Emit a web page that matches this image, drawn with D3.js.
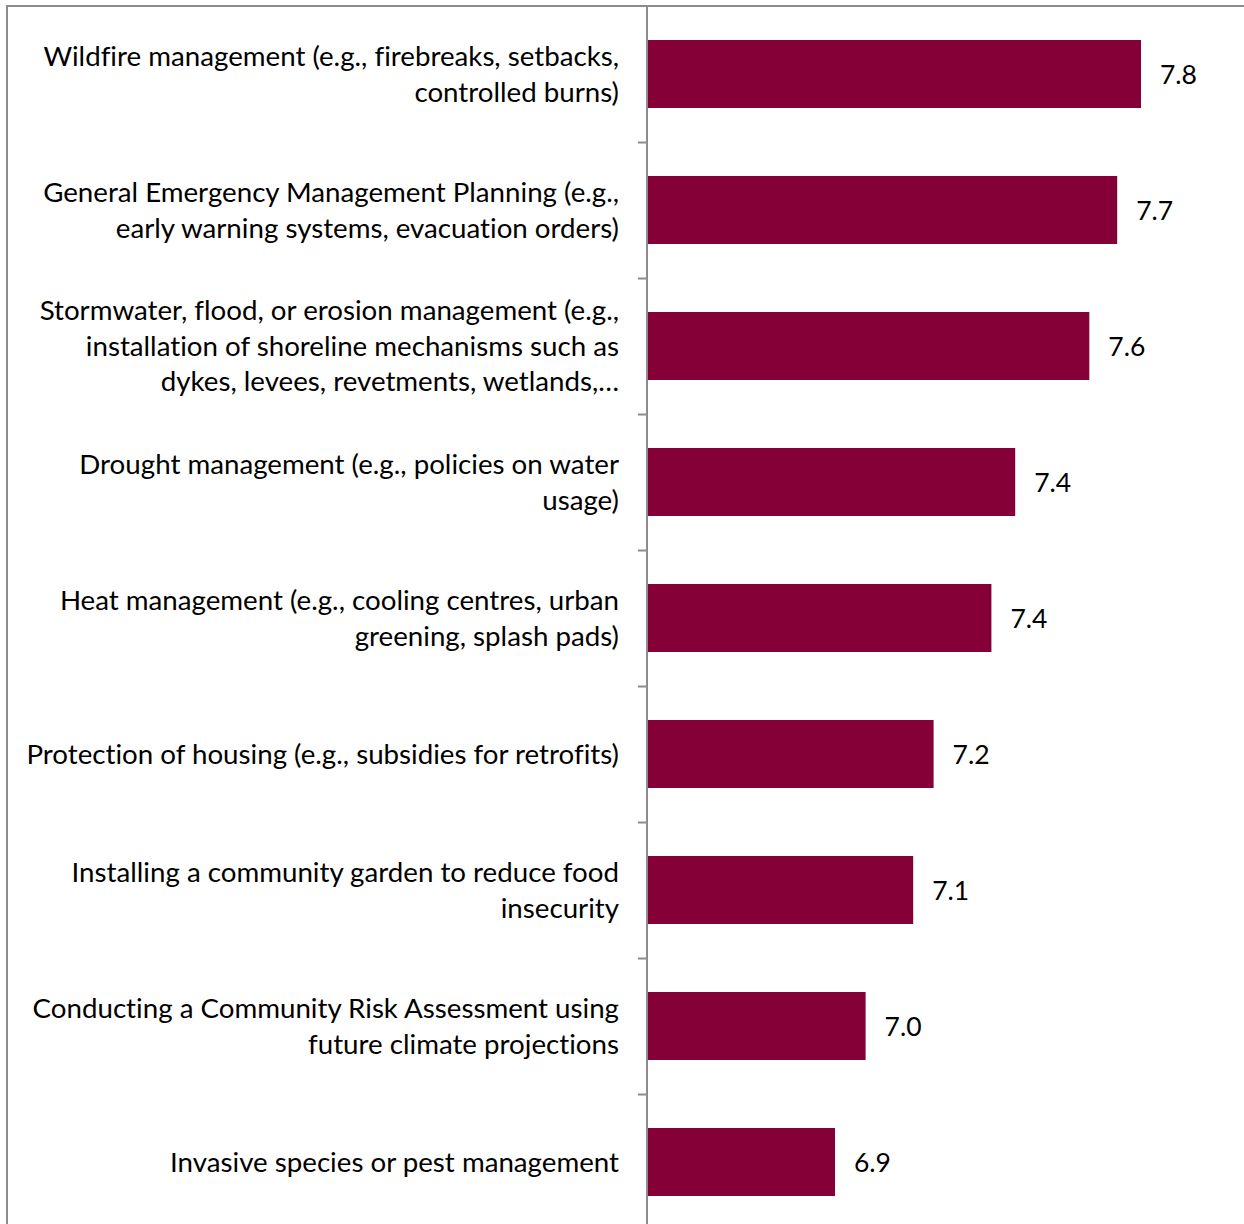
<!DOCTYPE html>
<html>
<head>
<meta charset="utf-8">
<script src="https://cdn.jsdelivr.net/npm/d3@7"></script>
<style>
  html, body { margin: 0; padding: 0; background: #fff; }
  svg { display: block; }
  text { font-family: "Lato", "Open Sans", sans-serif; fill: #000; font-variant-ligatures: none; }
</style>
</head>
<body>
<svg id="chart" width="1244" height="1224"></svg>
<script>
// Mean importance ratings for each adaptation measure (line breaks as wrapped in the label column)
const categories = [
  "Wildfire management (e.g., firebreaks, setbacks,\ncontrolled burns)",
  "General Emergency Management Planning (e.g.,\nearly warning systems, evacuation orders)",
  "Stormwater, flood, or erosion management (e.g.,\ninstallation of shoreline mechanisms such as\ndykes, levees, revetments, wetlands,…",
  "Drought management (e.g., policies on water\nusage)",
  "Heat management (e.g., cooling centres, urban\ngreening, splash pads)",
  "Protection of housing (e.g., subsidies for retrofits)",
  "Installing a community garden to reduce food\ninsecurity",
  "Conducting a Community Risk Assessment using\nfuture climate projections",
  "Invasive species or pest management"
];
const values = [7.80, 7.73, 7.648, 7.43, 7.36, 7.19, 7.13, 6.99, 6.90];
const axisDomain = [6.35, 8.0];

const svg = d3.select("#chart");
const W = 1244, H = 1224;
const axisX = 648;
const plotTop = 6, plotBottom = 1230;

const x = d3.scaleLinear().domain(axisDomain).range([axisX, axisX + 340 * (axisDomain[1] - axisDomain[0])]);
const y = d3.scaleBand().domain(d3.range(categories.length)).range([plotTop, plotBottom])
  .paddingInner(0.5).paddingOuter(0.25);

// outer frame (extends past the right and bottom edges)
svg.append("rect")
  .attr("x", 7).attr("y", 6)
  .attr("width", W + 20).attr("height", H + 20)
  .attr("fill", "none").attr("stroke", "#8c8c8c").attr("stroke-width", 2);

// bars
svg.append("g").selectAll("rect").data(values).join("rect")
  .attr("x", axisX)
  .attr("y", (d, i) => y(i))
  .attr("width", d => x(d) - axisX)
  .attr("height", y.bandwidth())
  .attr("fill", "#860038");

// category axis: line plus ticks at band boundaries
const step = y.step();
const ax = svg.append("g");
ax.append("line")
  .attr("x1", 647).attr("x2", 647).attr("y1", plotTop).attr("y2", H + 10)
  .attr("stroke", "#8c8c8c").attr("stroke-width", 2);
ax.selectAll("line.tick").data(d3.range(1, categories.length)).join("line")
  .attr("class", "tick")
  .attr("x1", 638).attr("x2", 647)
  .attr("y1", i => plotTop + i * step + 0.5).attr("y2", i => plotTop + i * step + 0.5)
  .attr("stroke", "#8c8c8c").attr("stroke-width", 2);

// category labels, right aligned
const lineH = 35.5;
const labels = svg.append("g").selectAll("text").data(categories).join("text")
  .attr("text-anchor", "end")
  .attr("font-size", 27.7)
  .attr("transform", (d, i) => `translate(619, ${y(i) + y.bandwidth() / 2})`);
labels.each(function(d) {
  const lines = d.split("\n");
  const off = -(lines.length - 1) / 2 * lineH;
  d3.select(this).selectAll("tspan").data(lines).join("tspan")
    .attr("x", 0)
    .attr("y", (l, j) => off + j * lineH)
    .attr("dy", "0.36em")
    .text(l => l);
});

// value labels
svg.append("g").selectAll("text").data(values).join("text")
  .attr("x", d => x(d) + 19)
  .attr("y", (d, i) => y(i) + y.bandwidth() / 2)
  .attr("dy", "0.36em")
  .attr("font-size", 26.5)
  .text(d => d.toFixed(1));
</script>
</body>
</html>
